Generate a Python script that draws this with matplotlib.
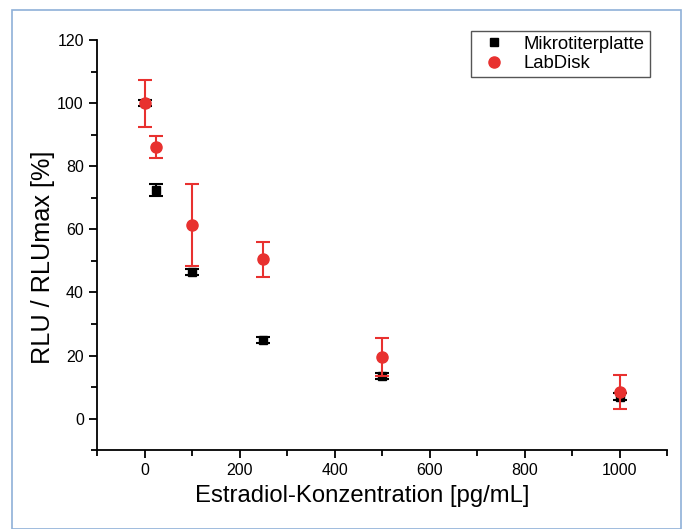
import matplotlib.pyplot as plt
from matplotlib.lines import Line2D
from matplotlib.patches import Rectangle
from matplotlib.ticker import MultipleLocator

plt.rcParams['font.family'] = ['Liberation Sans', 'DejaVu Sans']

conc = [0, 25, 100, 250, 500, 1000]
mtp = [100, 72.5, 46.5, 25, 13.5, 7]
mtp_err = [1, 2, 1, 1, 1, 1]
disk = [100, 86, 61.5, 50.5, 19.5, 8.5]
disk_err = [7.5, 3.5, 13, 5.5, 6, 5.3]

red = '#e8312f'

fig = plt.figure(figsize=(6.83, 5.29), dpi=100)
ax = fig.add_axes([0.142, 0.149, 0.835, 0.775])

ax.errorbar(conc, mtp, yerr=mtp_err, fmt='s', color='black', ms=6,
            capsize=5, elinewidth=1.5, capthick=1.5, zorder=2)
ax.errorbar(conc, disk, yerr=disk_err, fmt='o', color=red, ms=8,
            capsize=5, elinewidth=1.5, capthick=1.5, zorder=3)

ax.set_xlim(-100, 1100)
ax.set_ylim(-10, 120)
ax.xaxis.set_major_locator(MultipleLocator(200))
ax.xaxis.set_minor_locator(MultipleLocator(100))
ax.yaxis.set_major_locator(MultipleLocator(20))
ax.yaxis.set_minor_locator(MultipleLocator(10))
ax.spines['top'].set_visible(False)
ax.spines['right'].set_visible(False)
ax.spines['left'].set_linewidth(1.3)
ax.spines['bottom'].set_linewidth(1.3)
ax.tick_params(which='major', direction='out', length=6, width=1.3, labelsize=11.5)
ax.tick_params(which='minor', direction='out', length=4, width=1.3)

ax.set_xlabel('Estradiol-Konzentration [pg/mL]', fontsize=17.2)
ax.xaxis.set_label_coords(0.465, -0.085)
ax.set_ylabel('RLU / RLUmax [%]', fontsize=18.2)
ax.yaxis.set_label_coords(-0.074, 0.47)

handles = [Line2D([], [], ls='none', marker='s', color='black', ms=6),
           Line2D([], [], ls='none', marker='o', color=red, ms=8)]
ax.legend(handles, ['Mikrotiterplatte', 'LabDisk'], loc='upper right',
          bbox_to_anchor=(0.985, 1.045), fontsize=13.3,
          frameon=True, fancybox=False, edgecolor='#555555', framealpha=1,
          handlelength=2.0, handletextpad=0.6, borderpad=0.25, labelspacing=0.15)

fig.patches.append(Rectangle((0.017, 0.0), 0.98, 0.981, transform=fig.transFigure,
                             fill=False, edgecolor='#8fb0d8', linewidth=1.2))

fig.savefig('out.png', dpi=100)
